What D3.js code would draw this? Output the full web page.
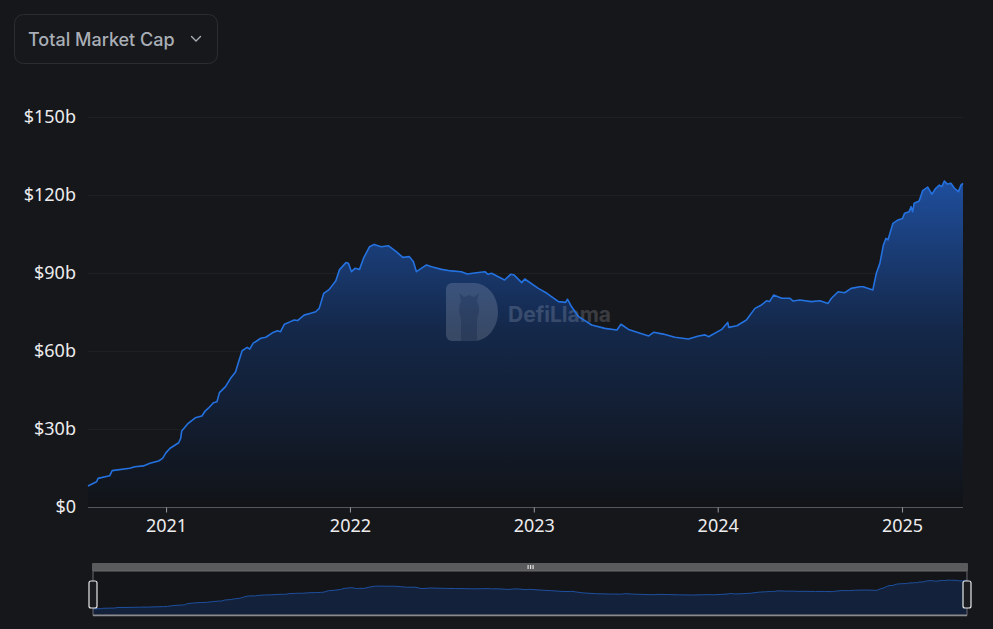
<!DOCTYPE html>
<html>
<head>
<meta charset="utf-8">
<script src="https://cdn.jsdelivr.net/npm/d3@7"></script>
<style>
  html, body { margin: 0; padding: 0; background: #16171a; }
  svg { display: block; }
</style>
</head>
<body>
<svg id="chart" width="993" height="629"></svg>
<script>
const title = "Total Market Cap";
const yTicks = [0, 30, 60, 90, 120, 150];
const xTickYears = ["2021", "2022", "2023", "2024", "2025"];
const dates = [
  "2020-07-30","2020-08-16","2020-08-19","2020-09-11","2020-09-16","2020-10-21","2020-10-31","2020-11-17","2020-11-30","2020-12-17","2020-12-25",
  "2021-01-01","2021-01-09","2021-01-26","2021-01-30","2021-02-01","2021-02-14","2021-02-28","2021-03-13","2021-03-20","2021-03-26","2021-04-05","2021-04-12","2021-04-17","2021-04-29","2021-05-09","2021-05-17","2021-05-19","2021-05-25","2021-06-01","2021-06-11","2021-06-16","2021-06-23","2021-07-08","2021-07-18","2021-07-31","2021-08-10","2021-08-16","2021-08-24","2021-09-05","2021-09-12","2021-09-19","2021-10-02","2021-10-15","2021-10-25","2021-11-01","2021-11-10","2021-11-21","2021-12-04","2021-12-11","2021-12-24","2021-12-29",
  "2022-01-04","2022-01-11","2022-01-20","2022-01-28","2022-02-09","2022-02-18","2022-03-04","2022-03-18","2022-04-03","2022-04-16","2022-04-29","2022-05-07","2022-05-13","2022-06-02","2022-06-12","2022-07-02","2022-07-21","2022-08-10","2022-08-22","2022-09-09","2022-09-26","2022-10-02","2022-10-09","2022-11-04","2022-11-16","2022-11-23","2022-12-08","2022-12-14",
  "2023-01-10","2023-01-27","2023-02-19","2023-03-05","2023-03-09","2023-03-17","2023-03-31","2023-04-26","2023-05-22","2023-06-15","2023-06-23","2023-07-08","2023-08-17","2023-08-27","2023-09-15","2023-10-08","2023-11-04","2023-11-24","2023-12-07","2023-12-14",
  "2024-01-09","2024-01-21","2024-01-23","2024-02-08","2024-02-27","2024-03-15","2024-03-28","2024-04-07","2024-04-13","2024-04-21","2024-05-07","2024-05-23","2024-05-30","2024-06-12","2024-07-05","2024-07-22","2024-08-07","2024-08-14","2024-08-27","2024-09-09","2024-09-22","2024-10-09","2024-10-16","2024-11-04","2024-11-11","2024-11-18","2024-11-25","2024-11-30","2024-12-04","2024-12-14","2024-12-24",
  "2025-01-02","2025-01-06","2025-01-15","2025-01-19","2025-01-22","2025-01-25","2025-02-04","2025-02-11","2025-02-21","2025-03-01","2025-03-09","2025-03-16","2025-03-21","2025-03-26","2025-04-01","2025-04-08","2025-04-15","2025-04-23","2025-04-28","2025-05-02"
];
const marketCap = [
  8.1,9.7,11.0,12.0,14.0,14.9,15.5,15.8,16.8,17.7,18.7,
  20.9,22.6,24.7,26.4,29.2,32.2,34.3,35.0,37.0,38.0,40.1,40.5,44.0,46.3,49.5,51.4,52.0,55.9,60.1,61.4,60.7,63.0,64.9,65.3,67.0,67.8,67.4,70.3,71.3,71.9,71.7,73.8,74.5,75.1,76.4,82.2,83.7,87.0,91.2,94.0,93.7,
  90.5,91.8,91.4,95.7,100.1,101.0,100.1,100.5,98.2,96.0,96.3,94.3,90.5,93.1,92.4,91.4,90.8,90.5,89.6,90.1,90.5,89.5,89.9,87.3,89.5,89.2,86.3,87.7,
  84.1,82.2,79.0,78.7,79.9,77.0,73.2,70.0,68.7,68.1,70.3,68.3,65.8,67.2,66.5,65.3,64.6,65.8,66.2,65.5,
  68.3,71.0,69.1,69.7,71.9,76.4,77.7,79.3,79.0,81.5,80.3,80.3,79.2,79.6,79.0,79.3,78.3,80.3,82.8,82.4,84.1,84.7,84.7,83.5,89.9,93.7,100.8,103.3,102.7,109.1,110.4,
  111.0,113.0,113.6,115.5,113.6,116.8,117.7,121.7,123.0,120.3,122.6,123.8,123.2,125.4,124.2,124.5,122.6,121.3,123.8,124.5
];

const parse = d3.timeParse("%Y-%m-%d");
const data = dates.map((d, i) => ({ date: parse(d), value: marketCap[i] }));

const svg = d3.select("#chart");
const W = 993, H = 629;
const pLeft = 88, pRight = 963, pTop = 117, pBottom = 507;

svg.append("rect").attr("width", W).attr("height", H).attr("fill", "#16171a");

// dropdown
const dd = svg.append("g");
dd.append("rect").attr("x", 14.5).attr("y", 14.5).attr("width", 203).attr("height", 49)
  .attr("rx", 9).attr("fill", "#17181b").attr("stroke", "#2c2d31").attr("stroke-width", 1);
dd.append("text").attr("x", 28).attr("y", 45.5).text(title)
  .attr("font-family", "Inter, 'Noto Sans', sans-serif").attr("font-size", 18).attr("font-weight", 500)
  .attr("fill", "#a9aeb6");
dd.append("path").attr("d", "M191.5,36.5 L196,41 L200.5,36.5").attr("fill", "none")
  .attr("stroke", "#a9aeb6").attr("stroke-width", 1.4).attr("stroke-linecap", "round").attr("stroke-linejoin", "round");

const x = d3.scaleTime().domain(d3.extent(data, d => d.date)).range([pLeft, pRight]);
const y = d3.scaleLinear().domain([0, 150]).range([pBottom, pTop]);

// grid
svg.append("g").selectAll("line").data(yTicks.slice(1)).join("line")
  .attr("x1", pLeft).attr("x2", pRight).attr("y1", d => y(d) + 0.5).attr("y2", d => y(d) + 0.5)
  .attr("stroke", "#1f2024").attr("stroke-width", 1);

// gradient
const defs = svg.append("defs");
const grad = defs.append("linearGradient").attr("id", "areaGrad")
  .attr("gradientUnits", "userSpaceOnUse").attr("x1", 0).attr("y1", y(125)).attr("x2", 0).attr("y2", pBottom);
grad.append("stop").attr("offset", "0%").attr("stop-color", "#1f4e9c");
grad.append("stop").attr("offset", "45%").attr("stop-color", "#14284a");
grad.append("stop").attr("offset", "100%").attr("stop-color", "#111317");

const area = d3.area().x(d => x(d.date)).y0(pBottom).y1(d => y(d.value));
const line = d3.line().x(d => x(d.date)).y(d => y(d.value));

svg.append("path").datum(data).attr("d", area).attr("fill", "url(#areaGrad)");

// watermark
const wm = svg.append("g").attr("opacity", 0.2);
wm.append("path")
  .attr("d", "M452,283 h22 a24,29 0 0 1 0,58 h-22 a6,6 0 0 1 -6,-6 v-46 a6,6 0 0 1 6,-6 z")
  .attr("fill", "#c8d0e0");
wm.append("path")
  .attr("d", "M461,341 v-22 q-4,-10 0,-18 l-2,-8 l5,4 l5,-2 l5,2 l5,-4 l-2,8 q4,8 0,18 v22 z")
  .attr("fill", "#8a93a8");
wm.append("text").attr("x", 508).attr("y", 322).text("DefiLlama")
  .attr("font-family", "Inter, 'Noto Sans', sans-serif").attr("font-size", 21).attr("font-weight", 700)
  .attr("fill", "#c8d0e0");

svg.append("path").datum(data).attr("d", line).attr("fill", "none")
  .attr("stroke", "#2471e0").attr("stroke-width", 1.6).attr("stroke-linejoin", "round");

// axes
const xAxis = d3.axisBottom(x)
  .tickValues(xTickYears.map(yy => parse(yy + "-01-01")))
  .tickFormat(d3.timeFormat("%Y")).tickSize(5).tickPadding(7);
const gx = svg.append("g").attr("transform", `translate(0,${pBottom + 0.5})`).call(xAxis);
gx.select(".domain").attr("stroke", "#55575c").attr("d", `M${pLeft},0H${pRight}`);
gx.selectAll(".tick line").attr("stroke", "#9a9ca0");
gx.selectAll("text").attr("fill", "#ececee").attr("font-size", 18)
  .attr("font-family", "'Noto Sans', 'Open Sans', sans-serif");

const yAxis = d3.axisLeft(y).tickValues(yTicks)
  .tickFormat(v => v === 0 ? "$0" : "$" + v + "b").tickSize(0).tickPadding(12);
const gy = svg.append("g").attr("transform", `translate(${pLeft},0)`).call(yAxis);
gy.select(".domain").remove();
gy.selectAll("text").attr("fill", "#ececee").attr("font-size", 18)
  .attr("font-family", "'Noto Sans', 'Open Sans', sans-serif");

// slider / data zoom
const sTop = 571, sBottom = 615, sLeft = 93, sRight = 967;
const xs = d3.scaleTime().domain(d3.extent(data, d => d.date)).range([sLeft, sRight]);
const ys = d3.scaleLinear().domain([0, d3.max(marketCap)]).range([611, 580]);
svg.append("rect").attr("x", sLeft - 1).attr("y", 563).attr("width", sRight - sLeft + 2).attr("height", 8)
  .attr("fill", "#5a5b5d").attr("rx", 1);
svg.append("g").selectAll("rect").data([0, 1, 2]).join("rect")
  .attr("x", d => 527.5 + d * 2.5).attr("y", 565).attr("width", 1.2).attr("height", 4).attr("fill", "#e0e0e0");
svg.append("rect").attr("x", sLeft).attr("y", sTop).attr("width", sRight - sLeft).attr("height", sBottom - sTop)
  .attr("fill", "#141518");
svg.append("path").datum(data)
  .attr("d", d3.area().x(d => xs(d.date)).y0(sBottom).y1(d => ys(d.value)))
  .attr("fill", "#14213a");
svg.append("path").datum(data)
  .attr("d", d3.line().x(d => xs(d.date)).y(d => ys(d.value)))
  .attr("fill", "none").attr("stroke", "#1d4f9e").attr("stroke-width", 1);
svg.append("rect").attr("x", sLeft).attr("y", sTop).attr("width", sRight - sLeft).attr("height", sBottom - sTop)
  .attr("fill", "none").attr("stroke", "#6a6b6e").attr("stroke-width", 1);
svg.append("line").attr("x1", sLeft).attr("x2", sRight).attr("y1", sBottom + 0.5).attr("y2", sBottom + 0.5)
  .attr("stroke", "#8a8b8e").attr("stroke-width", 1.5);
svg.append("g").selectAll("rect").data([sLeft, sRight]).join("rect")
  .attr("x", d => d - 4).attr("y", 581).attr("width", 8).attr("height", 27).attr("rx", 2)
  .attr("fill", "#1b1c1f").attr("stroke", "#e8e8e8").attr("stroke-width", 1.2);
</script>
</body>
</html>
